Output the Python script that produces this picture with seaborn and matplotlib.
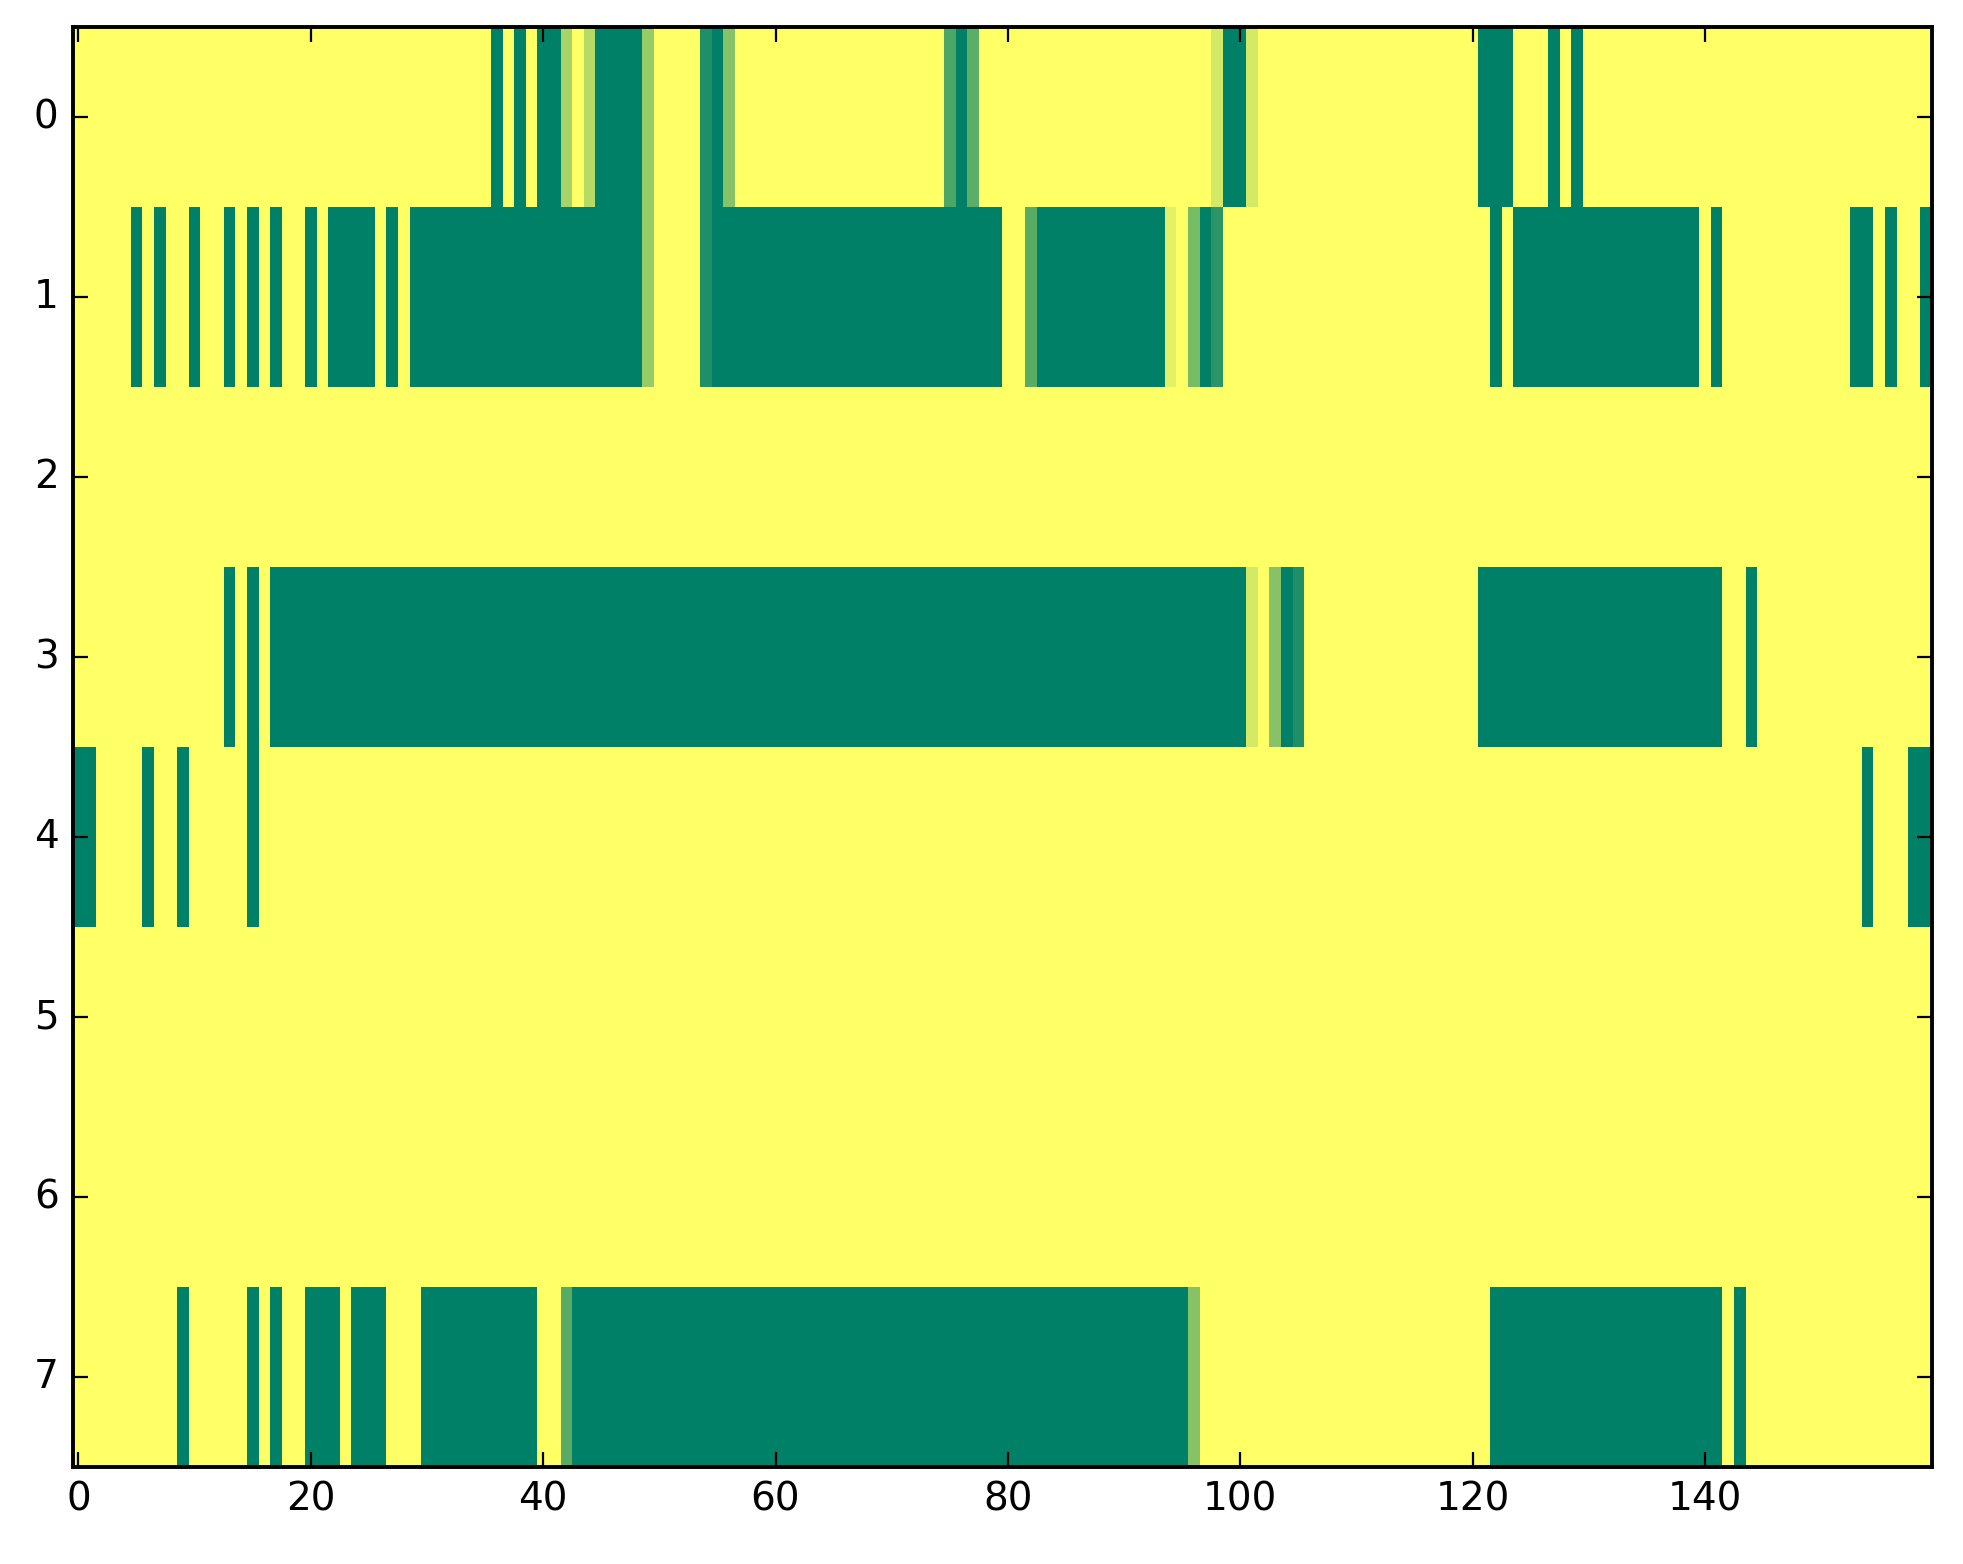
import numpy as np
import pandas as pd
import matplotlib
matplotlib.use('Agg')
import matplotlib.pyplot as plt
import seaborn as sns

n_rows = 8
n_cols = 160

# cells that are not 1.0, as (first col, last col, value) per row
row0 = [(36, 36, 0), (38, 38, 0), (40, 41, 0), (42, 42, 0.66), (44, 44, 0.71),
        (45, 48, 0), (49, 49, 0.59), (54, 54, 0.12), (55, 55, 0), (56, 56, 0.53),
        (75, 75, 0.30), (76, 76, 0), (77, 77, 0.36), (98, 98, 0.83), (99, 100, 0),
        (101, 101, 0.83), (121, 123, 0), (127, 127, 0), (129, 129, 0)]
row1 = [(5, 5, 0), (7, 7, 0), (10, 10, 0), (13, 13, 0), (15, 15, 0), (17, 17, 0),
        (20, 20, 0), (22, 25, 0), (27, 27, 0), (29, 48, 0), (49, 49, 0.59),
        (54, 54, 0.12), (55, 79, 0), (82, 82, 0.35), (83, 93, 0), (94, 94, 0.89),
        (96, 96, 0.47), (97, 97, 0), (98, 98, 0.17), (122, 122, 0), (124, 139, 0),
        (141, 141, 0), (153, 154, 0), (156, 156, 0), (159, 159, 0)]
row2 = []
row3 = [(13, 13, 0), (15, 15, 0), (17, 100, 0), (101, 101, 0.83), (103, 103, 0.53),
        (104, 104, 0), (105, 105, 0.12), (121, 141, 0), (144, 144, 0)]
row4 = [(0, 1, 0), (6, 6, 0), (9, 9, 0), (15, 15, 0), (154, 154, 0), (158, 159, 0)]
row5 = []
row6 = []
row7 = [(9, 9, 0), (15, 15, 0), (17, 17, 0), (20, 22, 0), (24, 26, 0), (30, 39, 0),
        (42, 42, 0.35), (43, 95, 0), (96, 96, 0.53), (122, 141, 0), (143, 143, 0)]

rows = [row0, row1, row2, row3, row4, row5, row6, row7]

grid = np.ones((n_rows, n_cols))
for r, segs in enumerate(rows):
    for a, b, v in segs:
        grid[r, a:b + 1] = v
df = pd.DataFrame(grid)

plt.rcParams['font.family'] = ['DejaVu Sans']
fig = plt.figure(figsize=(19.63, 15.64), dpi=100)
ax = fig.add_axes([0.037, 0.062, 0.947, 0.9207])
sns.heatmap(df, cmap='summer', vmin=0, vmax=1, cbar=False, ax=ax)

xt = np.arange(0, 160, 20)
ax.set_xticks(xt + 0.5)
ax.set_xticklabels([str(t) for t in xt], rotation=0, fontsize=28)
ax.set_yticks(np.arange(n_rows) + 0.5)
ax.set_yticklabels([str(t) for t in range(n_rows)], rotation=0, fontsize=28)
ax.tick_params(direction='in', top=True, right=True, length=11, width=1.6, pad=10)

for s in ax.spines.values():
    s.set_visible(True)
    s.set_linewidth(2.8)
    s.set_color('black')

fig.savefig('out.png', dpi=100)
